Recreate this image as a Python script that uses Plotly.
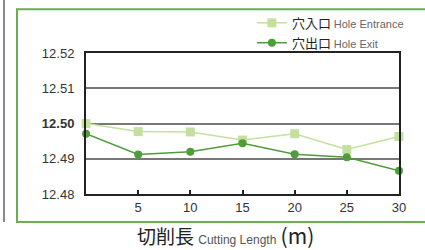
import plotly.graph_objects as go

cutting_length = [0, 5, 10, 15, 20, 25, 30]
hole_entrance = [12.5000, 12.4977, 12.4976, 12.4953, 12.4971, 12.4926, 12.4963]
hole_exit = [12.4971, 12.4912, 12.4920, 12.4944, 12.4913, 12.4904, 12.4866]
y_ticks = [12.48, 12.49, 12.50, 12.51, 12.52]
y_tick_labels = ["12.48", "12.49", "<b>12.50</b>", "12.51", "12.52"]
x_ticks = [5, 10, 15, 20, 25, 30]
x_title = ("切削長 <span style='font-size:12px;color:#555;font-family:Liberation Sans'>Cutting Length</span>"
           " <span style='font-size:21px'>(m)</span>")

CJK = "Noto Sans CJK JP, Liberation Sans, sans-serif"
ENTR = "#c4e09f"
EXIT = "#4f9c3a"

fig = go.Figure()
fig.add_trace(go.Scatter(
    x=cutting_length, y=hole_entrance, mode="lines+markers",
    name="穴入口 <span style='font-size:11px;color:#666;font-family:Liberation Sans'>Hole Entrance</span>",
    line=dict(color=ENTR, width=1.5),
    marker=dict(symbol="square", size=9, color=ENTR),
    cliponaxis=False,
))
fig.add_trace(go.Scatter(
    x=cutting_length, y=hole_exit, mode="lines+markers",
    name="穴出口 <span style='font-size:11px;color:#666;font-family:Liberation Sans'>Hole Exit</span>",
    line=dict(color=EXIT, width=1.5),
    marker=dict(symbol="circle", size=8, color=EXIT),
    cliponaxis=False,
))

# decorative frames
fig.add_shape(type="rect", xref="paper", yref="paper",
              x0=-0.2204, x1=1.3, y0=-0.1986, y1=1.31,
              line=dict(color="#6aae4e", width=2), layer="below")
fig.add_shape(type="line", xref="paper", yref="paper",
              x0=-0.2620, x1=-0.2620, y0=-0.1986, y1=1.4,
              line=dict(color="#888888", width=2), layer="below")

fig.add_annotation(text=x_title, xref="paper", yref="paper",
                   x=(225 - 86) / 313, y=-0.29, xanchor="center", yanchor="middle",
                   showarrow=False, font=dict(family=CJK, size=19, color="#222"))

fig.update_layout(
    width=425, height=250,
    margin=dict(l=86, r=26, t=53, b=56, autoexpand=False),
    paper_bgcolor="white", plot_bgcolor="white",
    font=dict(family=CJK, color="#333333", size=12),
    showlegend=True,
    legend=dict(x=0.53, y=1.32, xanchor="left", yanchor="top",
                bgcolor="rgba(0,0,0,0)", font=dict(family=CJK, size=13, color="#222"),
                itemwidth=30, tracegroupgap=0),
    xaxis=dict(range=[0, 30], tickvals=x_ticks, ticks="inside", ticklen=4,
               tickcolor="#222", tickwidth=1.5, showgrid=False, zeroline=False,
               showline=True, linecolor="#222", linewidth=2, mirror=True,
               tickfont=dict(size=13, color="#333", family="Liberation Sans, sans-serif")),
    yaxis=dict(range=[12.48, 12.52], tickvals=y_ticks, ticktext=y_tick_labels,
               showgrid=True, gridcolor="#777777", gridwidth=1.5, zeroline=False,
               showline=True, linecolor="#222", linewidth=2, mirror=True,
               ticks="", ticklabelstandoff=7,
               tickfont=dict(size=13, color="#333", family="Liberation Sans, sans-serif")),
)

fig.write_html("out.html", config={"displayModeBar": False},
               post_script="document.body.style.margin='0';")
